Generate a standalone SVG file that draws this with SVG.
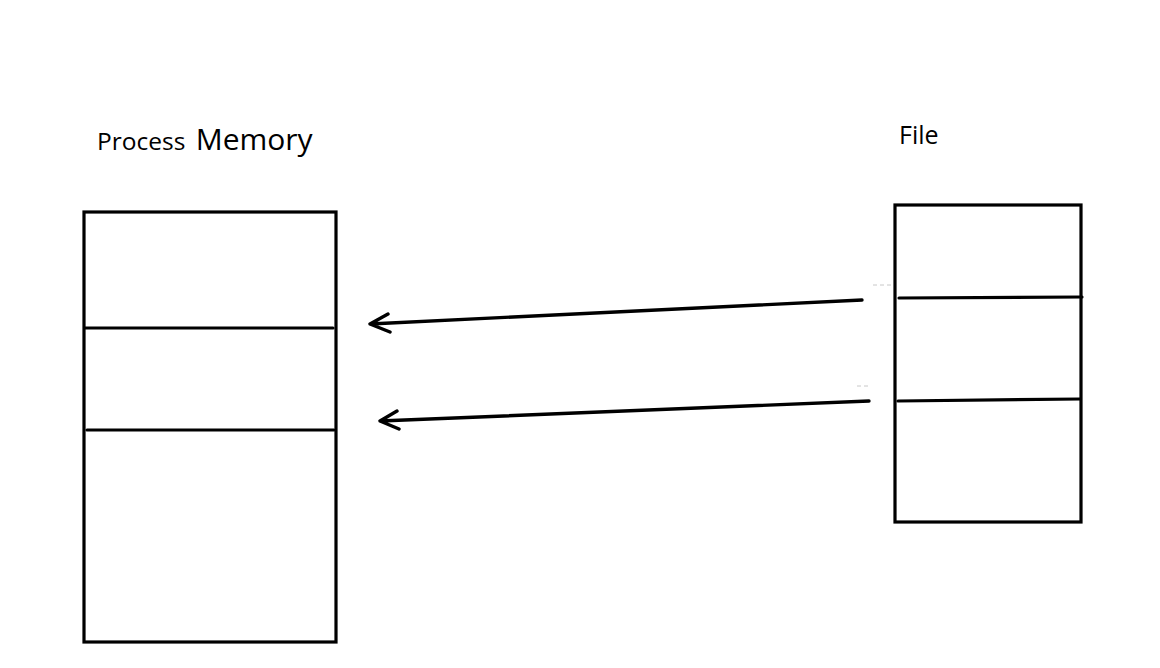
<svg xmlns="http://www.w3.org/2000/svg" width="1160" height="668" viewBox="0 0 1160 668">
  <style>
    .box { fill: none; stroke: #000; stroke-width: 3.2; }
    .div { stroke: #000; stroke-width: 3.2; stroke-linecap: round; }
    .link { fill: none; stroke: #000; stroke-width: 3.4; stroke-linecap: round; stroke-linejoin: round; }
    .tick { stroke: #c8c8c8; stroke-width: 1; stroke-dasharray: 4 3; }
    .lbl { font-family: "Open Sans", "Noto Sans", "Liberation Sans", sans-serif; fill: #000; }
  </style>
  <rect width="1160" height="668" fill="#fff"/>

  <g id="process-memory">
    <text class="lbl" x="97" y="150" font-size="24.5">Process <tspan dx="4" font-size="30">Memory</tspan></text>
    <rect class="box" x="84" y="212" width="252" height="430"/>
    <line class="div" x1="85" y1="328" x2="333" y2="328"/>
    <line class="div" x1="87" y1="430" x2="334" y2="430"/>
  </g>

  <g id="file">
    <text class="lbl" x="899" y="144" font-size="25">File</text>
    <rect class="box" x="895" y="205" width="186" height="317"/>
    <line class="div" x1="899" y1="298" x2="1082" y2="297"/>
    <line class="div" x1="898" y1="401" x2="1080" y2="399"/>
  </g>

  <g id="connectors">
    <path class="link" d="M862,300 L370,324 M388,314 L370,324 L390,332"/>
    <path class="link" d="M869,401 L380,421 M397,411 L380,421 L399,429"/>
    <line class="tick" x1="873" y1="285" x2="891" y2="285"/>
    <line class="tick" x1="857" y1="386" x2="868" y2="386"/>
  </g>
</svg>
